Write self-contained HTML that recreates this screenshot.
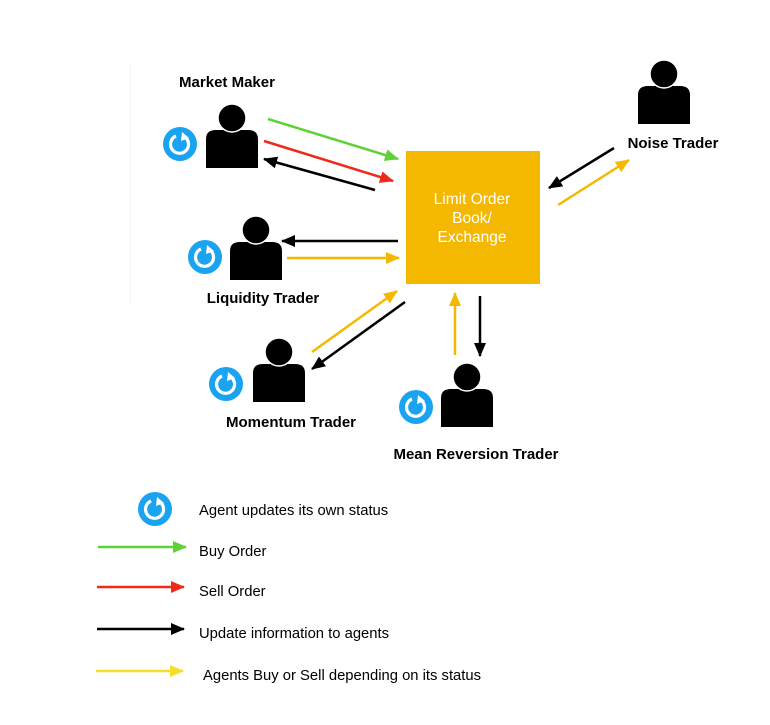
<!DOCTYPE html>
<html><head><style>
body{margin:0;background:#fff;width:770px;height:720px;overflow:hidden}
svg text{font-family:"Liberation Sans",Arial,sans-serif}
</style></head><body>
<svg width="770" height="720" viewBox="0 0 770 720" xmlns="http://www.w3.org/2000/svg">
<defs>
<marker id="mg" markerUnits="userSpaceOnUse" markerWidth="14" markerHeight="12" refX="13" refY="6" orient="auto"><path d="M0,0L14,6L0,12z" fill="#5ED235"/></marker>
<marker id="mr" markerUnits="userSpaceOnUse" markerWidth="14" markerHeight="12" refX="13" refY="6" orient="auto"><path d="M0,0L14,6L0,12z" fill="#EE2A1B"/></marker>
<marker id="mk" markerUnits="userSpaceOnUse" markerWidth="14" markerHeight="12" refX="13" refY="6" orient="auto"><path d="M0,0L14,6L0,12z" fill="#000"/></marker>
<marker id="my" markerUnits="userSpaceOnUse" markerWidth="14" markerHeight="12" refX="13" refY="6" orient="auto"><path d="M0,0L14,6L0,12z" fill="#F5B800"/></marker>
<marker id="my2" markerUnits="userSpaceOnUse" markerWidth="14" markerHeight="12" refX="13" refY="6" orient="auto"><path d="M0,0L14,6L0,12z" fill="#F8DC2A"/></marker>
<g id="person"><circle cx="0" cy="0" r="14" fill="#000"/><path d="M-26,50V21Q-26,12 -16,12H16Q26,12 26,21V50Z" fill="#000"/><circle cx="0" cy="0" r="14" fill="#000" stroke="#fff" stroke-width="1.5"/></g>
<g id="ref"><circle cx="0" cy="0" r="17" fill="#1AA3F0"/><path d="M-4,-8A9,9 0 1 0 6,-6" fill="none" stroke="#fff" stroke-width="3.2"/><path d="M2,-12L9,-6L1,-3z" fill="#fff"/></g>
</defs>
<rect x="130" y="65" width="1" height="240" fill="#f4f4f4"/>
<g font-size="15" font-weight="bold" text-anchor="middle">
<text x="227" y="87">Market Maker</text>
<text x="263" y="303">Liquidity Trader</text>
<text x="291" y="427">Momentum Trader</text>
<text x="476" y="459">Mean Reversion Trader</text>
<text x="673" y="148">Noise Trader</text>
</g>
<use href="#person" x="232" y="118"/>
<use href="#ref" x="180" y="144"/>
<use href="#person" x="256" y="230"/>
<use href="#ref" x="205" y="257"/>
<use href="#person" x="279" y="352"/>
<use href="#ref" x="226" y="384"/>
<use href="#person" x="467" y="377"/>
<use href="#ref" x="416" y="407"/>
<use href="#person" x="664" y="74"/>
<rect x="406" y="151" width="134" height="133" fill="#F5B800"/>
<g font-size="15.5" fill="#fff" text-anchor="middle">
<text x="472" y="204">Limit Order</text>
<text x="472" y="223">Book/</text>
<text x="472" y="242">Exchange</text>
</g>
<g stroke-width="2.5" fill="none">
<line x1="268" y1="119" x2="398" y2="159" stroke="#5ED235" marker-end="url(#mg)"/>
<line x1="264" y1="141" x2="393" y2="181" stroke="#EE2A1B" marker-end="url(#mr)"/>
<line x1="375" y1="190" x2="264" y2="159" stroke="#000" marker-end="url(#mk)"/>
<line x1="398" y1="241" x2="282" y2="241" stroke="#000" marker-end="url(#mk)"/>
<line x1="287" y1="258" x2="399" y2="258" stroke="#F5B800" marker-end="url(#my)"/>
<line x1="312" y1="352" x2="397" y2="291" stroke="#F5B800" marker-end="url(#my)"/>
<line x1="405" y1="302" x2="312" y2="369" stroke="#000" marker-end="url(#mk)"/>
<line x1="455" y1="355" x2="455" y2="293" stroke="#F5B800" marker-end="url(#my)"/>
<line x1="480" y1="296" x2="480" y2="356" stroke="#000" marker-end="url(#mk)"/>
<line x1="614" y1="148" x2="549" y2="188" stroke="#000" marker-end="url(#mk)"/>
<line x1="558" y1="205" x2="629" y2="160" stroke="#F5B800" marker-end="url(#my)"/>
<line x1="98" y1="547" x2="186" y2="547" stroke="#5ED235" marker-end="url(#mg)"/>
<line x1="97" y1="587" x2="184" y2="587" stroke="#EE2A1B" marker-end="url(#mr)"/>
<line x1="97" y1="629" x2="184" y2="629" stroke="#000" marker-end="url(#mk)"/>
<line x1="96" y1="671" x2="183" y2="671" stroke="#F8DC2A" marker-end="url(#my2)"/>
</g>
<use href="#ref" x="155" y="509"/>
<g font-size="14.8">
<text x="199" y="515">Agent updates its own status</text>
<text x="199" y="556">Buy Order</text>
<text x="199" y="596">Sell Order</text>
<text x="199" y="638">Update information to agents</text>
<text x="203" y="680">Agents Buy or Sell depending on its status</text>
</g>
</svg>
</body></html>
